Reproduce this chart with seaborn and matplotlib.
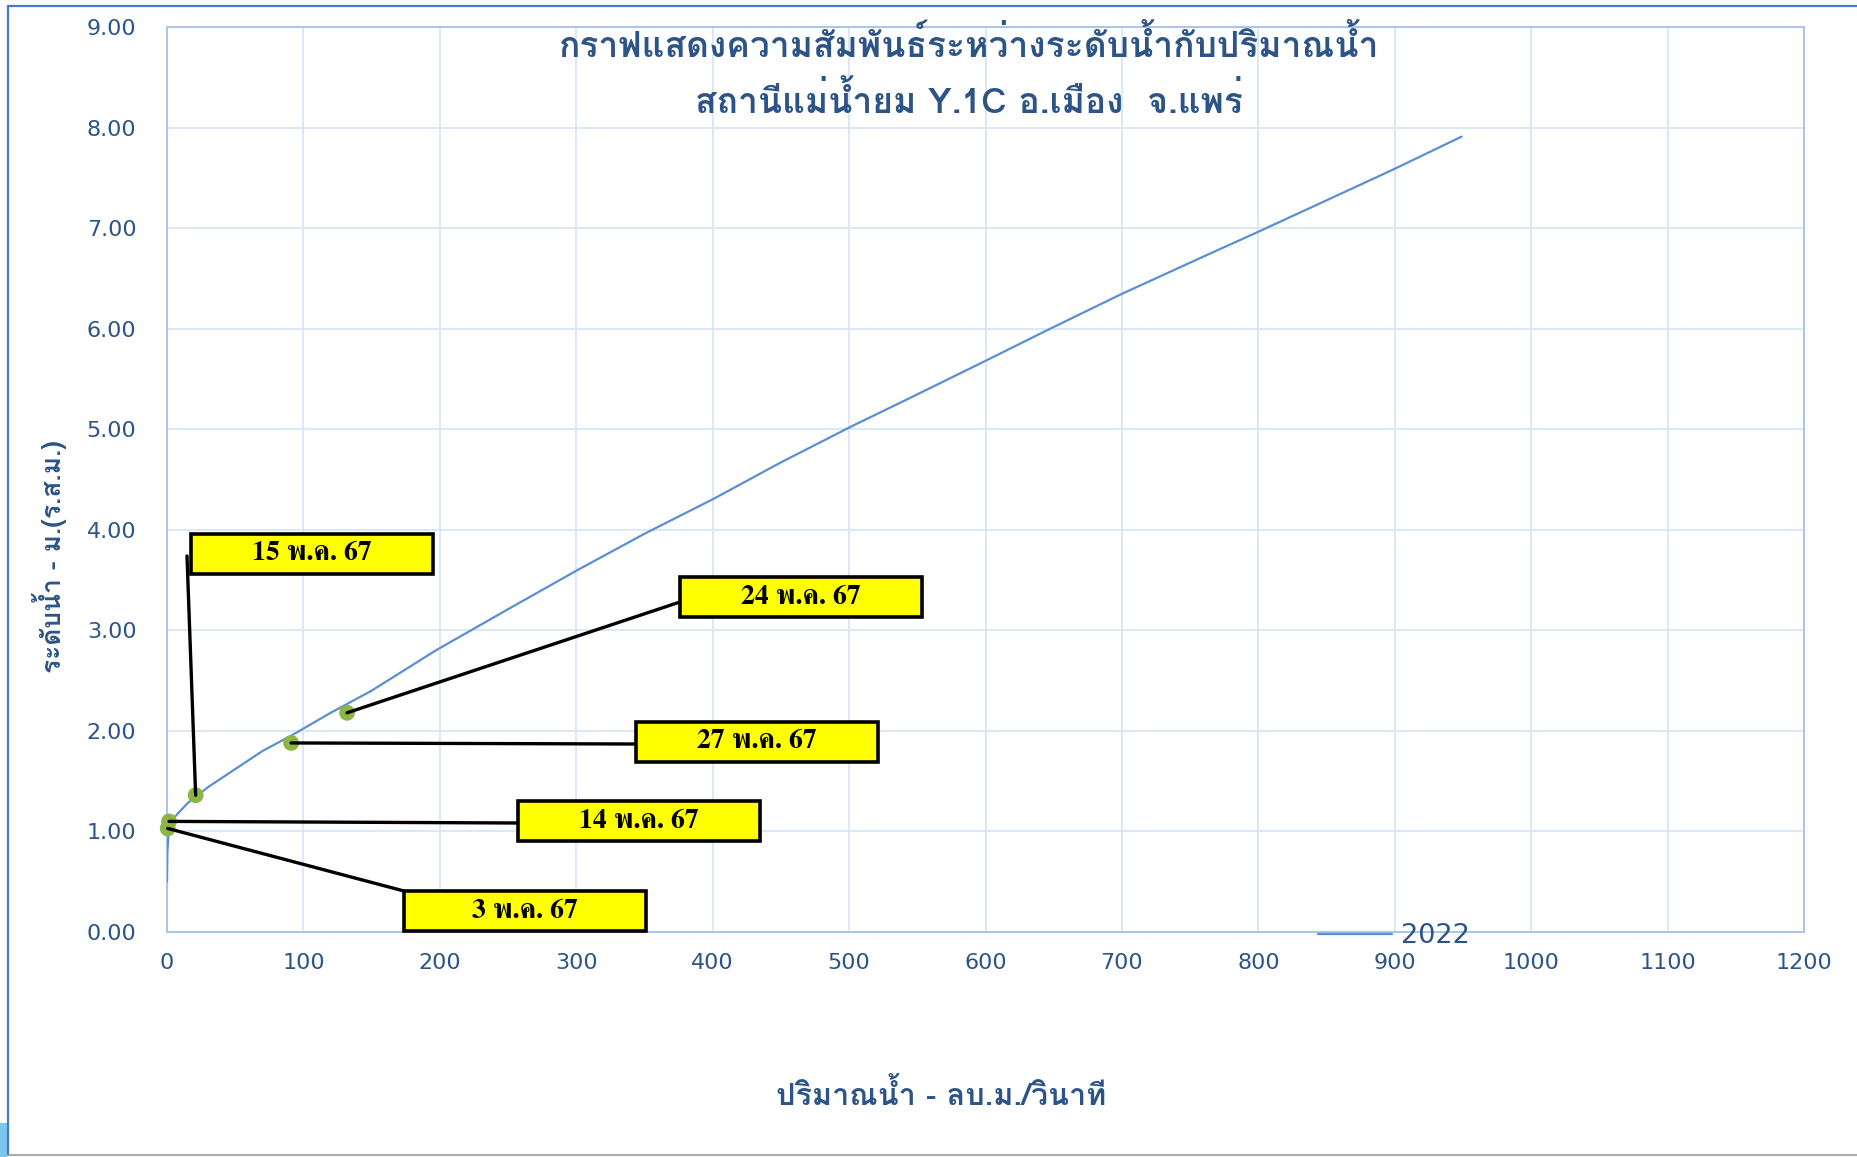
import matplotlib
matplotlib.use("Agg")
import matplotlib.pyplot as plt
import seaborn as sns
import pandas as pd
from matplotlib.patches import Rectangle
from matplotlib.lines import Line2D

# ---------------- data ----------------
discharge = [0, 0.3, 1.5, 6, 15, 30, 50, 70, 92, 120, 150, 197, 250, 301, 350,
             401, 450, 502, 543, 600, 649, 699, 757, 801, 849, 900, 949]
stage = [0.50, 0.80, 1.05, 1.15, 1.28, 1.44, 1.62, 1.80, 1.96, 2.18, 2.40, 2.80,
         3.21, 3.60, 3.96, 4.31, 4.67, 5.03, 5.30, 5.68, 6.01, 6.34, 6.70, 6.97,
         7.27, 7.59, 7.91]
series_name = "2022"

obs_labels = ["3 พ.ค. 67", "14 พ.ค. 67", "15 พ.ค. 67", "27 พ.ค. 67", "24 พ.ค. 67"]
obs_q = [0.5, 1.5, 21, 91, 132]
obs_h = [1.03, 1.10, 1.36, 1.88, 2.18]

x_ticks = list(range(0, 1201, 100))
y_ticks = [0, 1, 2, 3, 4, 5, 6, 7, 8, 9]

title_1 = "กราฟแสดงความสัมพันธ์ระหว่างระดับน้ำกับปริมาณน้ำ"
title_2 = "สถานีแม่น้ำยม Y.1C อ.เมือง  จ.แพร่"
x_label = "ปริมาณน้ำ - ลบ.ม./วินาที"
y_label = "ระดับน้ำ - ม.(ร.ส.ม.)"

# ---------------- layout (figure pixels) ----------------
W, H = 1857, 1157
# callout box top-left corners, same order as obs_labels
box_tl = [(404, 891), (518, 801), (191, 534), (636, 722), (680, 577)]
box_w, box_h = 242, 40
# where each leader line meets its box (relative to the box top-left)
leader_anchor = [(0, 0), (0, 22), (-4, 22), (0, 22), (0, 25)]

sns.set_theme(style="whitegrid")
plt.rcParams["font.family"] = ["DejaVu Sans"]

TXT = "#2C5487"
fig = plt.figure(figsize=(W / 100, H / 100), dpi=100)
ax = fig.add_axes([167 / W, 1 - 932 / H, (1804 - 167) / W, (932 - 27) / H])
ax.set_facecolor("white")

df = pd.DataFrame({"q": discharge, "h": stage})
sns.lineplot(data=df, x="q", y="h", ax=ax, color="#5A8FD2", linewidth=1.6,
             label=series_name, sort=False, zorder=3)

obs = pd.DataFrame({"q": obs_q, "h": obs_h, "lab": obs_labels})
sns.scatterplot(data=obs, x="q", y="h", ax=ax, color="#8DB545", s=130,
                edgecolor="none", zorder=5, clip_on=False, legend=False)

ax.set_xlim(0, 1200)
ax.set_ylim(0, 9)
ax.set_xticks(x_ticks)
ax.set_yticks(y_ticks)
ax.set_yticklabels([f"{v:.2f}" for v in y_ticks])
ax.set_xticklabels([str(v) for v in x_ticks])
ax.tick_params(axis="both", length=0, labelsize=16, colors=TXT)
ax.tick_params(axis="y", pad=22)
ax.tick_params(axis="x", pad=15)
ax.grid(True, color="#D8E6F6", linewidth=1.3)
for s in ax.spines.values():
    s.set_visible(True)
    s.set_color("#A9C5EA")
    s.set_linewidth(1.4)
ax.set_xlabel("")
ax.set_ylabel("")

# legend
leg = ax.legend(loc="center left", bbox_to_anchor=(1318 / W, 1 - 936 / H),
                bbox_transform=fig.transFigure, frameon=False, fontsize=19.5,
                handlelength=2.75, handletextpad=0.3, borderpad=0,
                borderaxespad=0)
for t in leg.get_texts():
    t.set_color(TXT)

# callouts
for lab, q, h, (bx, by), (ax_, ay_) in zip(obs_labels, obs_q, obs_h, box_tl, leader_anchor):
    ex, ey = (bx + ax_) / W, 1 - (by + ay_) / H
    ax.annotate("", xy=(q, h), xycoords="data", xytext=(ex, ey),
                textcoords="figure fraction",
                arrowprops=dict(arrowstyle="-", color="black", lw=2.4,
                                shrinkA=0, shrinkB=0), zorder=6)
    fig.patches.append(Rectangle((bx / W, 1 - (by + box_h) / H), box_w / W, box_h / H,
                                 transform=fig.transFigure, facecolor="#FFFF00",
                                 edgecolor="black", linewidth=2.6, zorder=7))
    fig.text((bx + box_w / 2) / W, 1 - (by + box_h / 2) / H, lab,
             ha="center", va="center", fontsize=20, fontweight="bold",
             family=["FreeSerif", "DejaVu Serif"], color="black", zorder=8)

# titles and axis labels
fig.text(969 / W, 1 - 45 / H, title_1, ha="center", va="center", fontsize=25.5,
         fontweight="bold", family=["Loma", "DejaVu Sans"], color=TXT)
fig.text(969 / W, 1 - 101 / H, title_2, ha="center", va="center", fontsize=25.5,
         fontweight="bold", family=["Loma", "DejaVu Sans"], color=TXT)
fig.text(941 / W, 1 - 1095 / H, x_label, ha="center", va="center", fontsize=22,
         fontweight="bold", family=["Loma", "DejaVu Sans"], color=TXT)
fig.text(50 / W, 1 - 557 / H, y_label, ha="center", va="center", fontsize=19,
         fontweight="bold", rotation=90, family=["Loma", "DejaVu Sans"], color=TXT)

# outer frame of the chart picture
fig.add_artist(Line2D([8 / W, 8 / W], [1 - 1155 / H, 1 - 6 / H], transform=fig.transFigure,
                      color="#4A78C8", linewidth=1.6))
fig.add_artist(Line2D([8 / W, 1.0], [1 - 6 / H, 1 - 6 / H], transform=fig.transFigure,
                      color="#4A78C8", linewidth=1.6))
fig.add_artist(Line2D([8 / W, 1.0], [1 - 1155 / H, 1 - 1155 / H], transform=fig.transFigure,
                      color="#9A9A9A", linewidth=1.2))
fig.patches.append(Rectangle((0, 0), 7 / W, 34 / H, transform=fig.transFigure,
                             facecolor="#7CC6EE", edgecolor="none"))

fig.savefig("out.png", dpi=100)
